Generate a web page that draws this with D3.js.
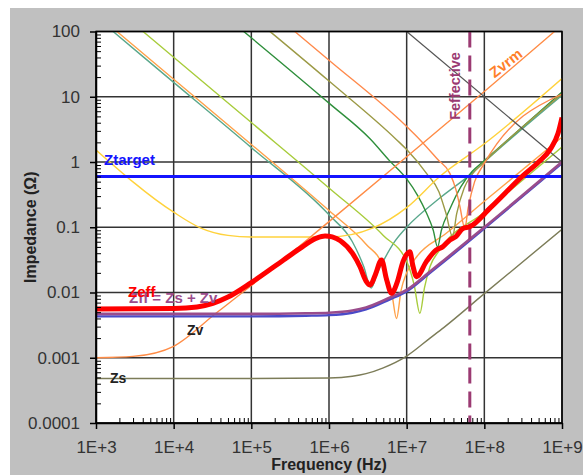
<!DOCTYPE html>
<html>
<head>
<meta charset="utf-8">
<script src="https://cdn.jsdelivr.net/npm/d3@7"></script>
<style>
  body { margin: 0; background: #fff; }
  svg { display: block; font-family: "Liberation Sans", Arial, sans-serif; }
  .axis text { font-size: 17px; fill: #333; }
  .axis path, .axis line { stroke: #000; stroke-width: 1.5; }
  .minor path { display: none; }
  .minor line { stroke: #000; stroke-width: 1; }
  .grid line { stroke: #333; stroke-width: 1.5; }
  .lbl { font-weight: bold; }
</style>
</head>
<body>
<div id="chart"></div>
<script>
// ---- data: [frequency Hz, impedance ohm] ----
const freqTicks = [1e3, 1e4, 1e5, 1e6, 1e7, 1e8, 1e9];
const freqLabels = ["1E+3", "1E+4", "1E+5", "1E+6", "1E+7", "1E+8", "1E+9"];
const zTicks = [1e-4, 1e-3, 1e-2, 1e-1, 1, 10, 100];
const zLabels = ["0.0001", "0.001", "0.01", "0.1", "1", "10", "100"];

const zTarget = [[1e3, 0.6], [1e9, 0.6]];
const fEffective = 6.5e7;

const zs = [[1e3, 0.00048], [1e5, 0.00048], [1e6, 0.00049], [2e6, 0.00052], [3e6, 0.00057],
  [5e6, 0.0007], [1e7, 0.00106], [2e7, 0.002], [3e7, 0.0029], [1e8, 0.0096], [1e9, 0.093]];
const zv = [[1e3, 0.001], [3e3, 0.00105], [1e4, 0.0015], [3.5e4, 0.0048], [1e5, 0.0128],
  [1e6, 0.122], [1e7, 1.2], [1e8, 12], [8e8, 100]];
const zff = [[1e3, 0.0047], [1e5, 0.0047], [5e5, 0.0048], [1e6, 0.0049], [2e6, 0.0053],
  [3e6, 0.0059], [6e6, 0.0083], [1e7, 0.011], [2e7, 0.021], [3e7, 0.031], [1e8, 0.1], [1e9, 1.0]];
const zPlane = [[1e3, 0.0043], [1e5, 0.0043], [5e5, 0.0044], [1e6, 0.0045], [2e6, 0.0049],
  [3e6, 0.0055], [6e6, 0.0078], [1e7, 0.0104], [2e7, 0.02], [3e7, 0.0295], [1e8, 0.096], [1e9, 0.96]];
const zeff = [[1e3, 0.0056], [1e4, 0.0057], [2e4, 0.006], [3.2e4, 0.0068], [5e4, 0.0085],
  [1e5, 0.0142], [2.6e5, 0.0315], [4.2e5, 0.047], [6.9e5, 0.068], [8.9e5, 0.0735],
  [1.1e6, 0.071], [1.4e6, 0.062], [2e6, 0.04], [2.5e6, 0.025], [3e6, 0.015], [3.4e6, 0.013],
  [3.9e6, 0.018], [4.75e6, 0.0315], [5.5e6, 0.016], [6.4e6, 0.0097], [7.5e6, 0.014],
  [9e6, 0.03], [1.1e7, 0.042], [1.2e7, 0.026], [1.34e7, 0.0175], [1.8e7, 0.03],
  [2.4e7, 0.045], [2.9e7, 0.05], [3.6e7, 0.064], [4.3e7, 0.072], [5.3e7, 0.096],
  [6.5e7, 0.102], [1.2e8, 0.2], [3.2e8, 0.63], [5e8, 1.0], [7e8, 1.55], [8.9e8, 2.75], [1e9, 4.8]];

const capTeal = [[1.66e3, 100], [1e4, 16.6], [1e5, 1.66], [1e6, 0.155], [2e6, 0.06],
  [2.8e6, 0.025], [3.5e6, 0.0117], [4.2e6, 0.02], [5.2e6, 0.033], [7e6, 0.06], [1e7, 0.1],
  [2.67e7, 0.28], [7.2e7, 0.7], [1e8, 1.0], [1e9, 10.5]];
const capOrange = [[1.86e3, 100], [1e4, 18.6], [1e5, 1.86], [1e6, 0.18], [3e6, 0.055],
  [5e6, 0.025], [6.5e6, 0.009], [7.4e6, 0.004], [8.5e6, 0.011], [1e7, 0.02], [1.34e7, 0.035],
  [3.2e7, 0.08], [1e8, 0.25], [1e9, 2.4]];
const capLime = [[4.03e3, 100], [1e4, 40.3], [1e5, 4.03], [1e6, 0.4], [5e6, 0.075],
  [1e7, 0.03], [1.25e7, 0.013], [1.48e7, 0.0048], [1.7e7, 0.012], [2e7, 0.025],
  [2.67e7, 0.045], [1e8, 0.17], [1e9, 1.7]];
const capGreen = [[7.98e4, 100], [1e6, 7.98], [3.4e6, 2.25], [6e6, 1.05], [1e7, 0.55],
  [1.4e7, 0.3], [1.8e7, 0.165], [2.2e7, 0.09], [2.5e7, 0.05], [2.8e7, 0.09], [3.6e7, 0.19],
  [5e7, 0.42], [7e7, 0.72], [1e8, 1.05], [1e9, 11.8]];
const capOlive = [[1.74e5, 100], [1e6, 17.4], [7.4e6, 2.2], [1e7, 1.55], [1.8e7, 0.67],
  [2.6e7, 0.35], [3.2e7, 0.165], [3.9e7, 0.072], [4.4e7, 0.16], [5.5e7, 0.4], [7e7, 0.65],
  [1e8, 1.0], [1e9, 11]];
const capCoral = [[3.63e5, 100], [1e6, 36.3], [1e7, 3.5], [1.48e7, 2.2], [2.5e7, 1.1],
  [3.6e7, 0.67], [4.3e7, 0.38], [4.84e7, 0.21], [5.6e7, 0.097], [6.2e7, 0.2], [7.5e7, 0.5],
  [1e8, 0.95], [1e9, 11]];
const capYellow = [[1e3, 1.53], [1e4, 0.17], [2.2e4, 0.098], [5e4, 0.075], [1e5, 0.071],
  [1e6, 0.071], [3.7e6, 0.098], [1e7, 0.2], [2.67e7, 0.6], [1e8, 1.9], [1e9, 19]];
const zBoard = [[1e7, 100], [1e9, 1]];

// ---- layout ----
const W = 587, H = 475;
const plot = {left: 96, right: 562, top: 31.5, bottom: 423};

const svg = d3.select("#chart").append("svg").attr("width", W).attr("height", H);

svg.append("rect").attr("x", 10).attr("y", 8).attr("width", 573).attr("height", 467)
  .attr("fill", "#c0c0c0");
svg.append("rect").attr("x", plot.left).attr("y", plot.top)
  .attr("width", plot.right - plot.left).attr("height", plot.bottom - plot.top)
  .attr("fill", "#fff");

const xScale = d3.scaleLog().domain([1e3, 1e9]).range([plot.left, plot.right]);
const yScale = d3.scaleLog().domain([1e-4, 100]).range([plot.bottom, plot.top]);

// minor ticks 2..9 in every decade
const minorFreq = [], minorZ = [];
freqTicks.slice(0, -1).forEach(d => d3.range(2, 10).forEach(k => minorFreq.push(d * k)));
zTicks.slice(0, -1).forEach(d => d3.range(2, 10).forEach(k => minorZ.push(d * k)));

// grid
svg.append("g").attr("class", "grid")
  .selectAll("line.v").data(freqTicks).join("line")
  .attr("x1", d => xScale(d)).attr("x2", d => xScale(d))
  .attr("y1", plot.top).attr("y2", plot.bottom);
svg.append("g").attr("class", "grid")
  .selectAll("line.h").data(zTicks).join("line")
  .attr("y1", d => yScale(d)).attr("y2", d => yScale(d))
  .attr("x1", plot.left).attr("x2", plot.right);

// curves
const clip = svg.append("clipPath").attr("id", "plotclip").append("rect")
  .attr("x", plot.left).attr("y", plot.top)
  .attr("width", plot.right - plot.left).attr("height", plot.bottom - plot.top);

const lineGen = d3.line()
  .x(d => xScale(d[0]))
  .y(d => yScale(d[1]))
  .curve(d3.curveMonotoneX);

const curves = [
  {data: capTeal, color: "#5aa88c", width: 1.4},
  {data: capOrange, color: "#ffa24a", width: 1.4},
  {data: capLime, color: "#a8cc3c", width: 1.4},
  {data: capGreen, color: "#2f8f3c", width: 1.4},
  {data: capOlive, color: "#9c9a46", width: 1.4},
  {data: capCoral, color: "#ff8a4c", width: 1.4},
  {data: capYellow, color: "#ffd23c", width: 1.4},
  {data: zv, color: "#ff8c46", width: 1.4},
  {data: zs, color: "#7c7c58", width: 1.4},
  {data: zBoard, color: "#555", width: 1.2},
  {data: zPlane, color: "#4a4ac8", width: 2.4},
  {data: zff, color: "#9a4c8c", width: 2.6},
];

const gCurves = svg.append("g").attr("clip-path", "url(#plotclip)");
curves.forEach(c => {
  gCurves.append("path")
    .attr("d", lineGen(c.data))
    .attr("fill", "none")
    .attr("stroke", c.color)
    .attr("stroke-width", c.width);
});

// F effective dashed marker
gCurves.append("line")
  .attr("x1", xScale(fEffective)).attr("x2", xScale(fEffective))
  .attr("y1", plot.top).attr("y2", plot.bottom)
  .attr("stroke", "#9b3a72").attr("stroke-width", 3)
  .attr("stroke-dasharray", "16,8");

// target line
gCurves.append("path").attr("d", lineGen(zTarget))
  .attr("fill", "none").attr("stroke", "#1414ff").attr("stroke-width", 3);

// effective impedance
gCurves.append("path").attr("d", lineGen(zeff))
  .attr("fill", "none").attr("stroke", "#ff0000").attr("stroke-width", 5)
  .attr("stroke-linejoin", "round");

// axes
svg.append("g").attr("class", "axis")
  .attr("transform", `translate(0,${plot.bottom})`)
  .call(d3.axisBottom(xScale).tickValues(freqTicks)
    .tickFormat((d, i) => freqLabels[i]).tickSizeInner(6).tickSizeOuter(0).tickPadding(12));
svg.append("g").attr("class", "axis")
  .attr("transform", `translate(${plot.left},0)`)
  .call(d3.axisLeft(yScale).tickValues(zTicks)
    .tickFormat((d, i) => zLabels[i]).tickSizeInner(6).tickSizeOuter(0).tickPadding(10));
svg.append("g").attr("class", "minor")
  .attr("transform", `translate(0,${plot.bottom})`)
  .call(d3.axisBottom(xScale).tickValues(minorFreq).tickSize(-5).tickFormat(""));
svg.append("g").attr("class", "minor")
  .attr("transform", `translate(${plot.left},0)`)
  .call(d3.axisLeft(yScale).tickValues(minorZ).tickSize(-5).tickFormat(""));

svg.append("rect").attr("x", plot.left).attr("y", plot.top)
  .attr("width", plot.right - plot.left).attr("height", plot.bottom - plot.top)
  .attr("fill", "none").attr("stroke", "#000").attr("stroke-width", 1.5);

// axis titles
svg.append("text").attr("class", "lbl")
  .attr("x", (plot.left + plot.right) / 2).attr("y", 470)
  .attr("text-anchor", "middle").attr("font-size", 16).attr("fill", "#222")
  .text("Frequency (Hz)");
svg.append("text").attr("class", "lbl")
  .attr("transform", `translate(36,${(plot.top + plot.bottom) / 2}) rotate(-90)`)
  .attr("text-anchor", "middle").attr("font-size", 16).attr("fill", "#222")
  .text("Impedance (Ω)");

// curve labels, placed in data units
const labels = [
  {text: "Ztarget", f: 1.27e3, z: 0.9, color: "#1414ff", size: 15},
  {text: "Zff = Zs + Zv", f: 2.66e3, z: 0.0069, color: "#9a4c8c", size: 15},
  {text: "Zeff", f: 2.58e3, z: 0.0085, color: "#ff0000", size: 15},
  {text: "Zv", f: 1.48e4, z: 0.00223, color: "#222", size: 14},
  {text: "Zs", f: 1.51e3, z: 0.00041, color: "#222", size: 14},
];
labels.forEach(l => {
  svg.append("text").attr("class", "lbl")
    .attr("x", xScale(l.f)).attr("y", yScale(l.z))
    .attr("font-size", l.size).attr("fill", l.color)
    .text(l.text);
});

svg.append("text").attr("class", "lbl")
  .attr("transform", `translate(${xScale(1.89e8)},${yScale(32.9)}) rotate(-38)`)
  .attr("text-anchor", "middle").attr("dy", "0.35em")
  .attr("font-size", 15).attr("fill", "#ff7f2a")
  .text("Zvrm");
svg.append("text").attr("class", "lbl")
  .attr("transform", `translate(${xScale(4.84e7)},${yScale(14.6)}) rotate(-90)`)
  .attr("text-anchor", "middle")
  .attr("font-size", 14.5).attr("fill", "#9b3a72")
  .text("Feffective");
</script>
</body>
</html>
